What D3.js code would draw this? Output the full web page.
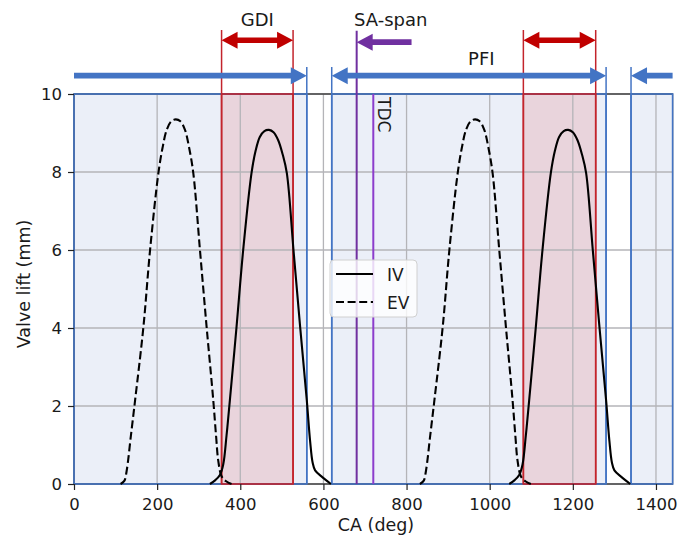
<!DOCTYPE html>
<html>
<head>
<meta charset="utf-8">
<script src="https://cdn.jsdelivr.net/npm/d3@7"></script>
<style>
  body { margin: 0; background: #fff; }
  text { font-family: "DejaVu Sans", sans-serif; fill: #1a1a1a; }
</style>
</head>
<body>
<svg id="canvas"></svg>
<script>
var width = 678,
  height = 539;

// valve lift curves, [crank angle (deg), lift (mm)]
var ivPoints = [
  [327, 0], [340, 0.1], [351, 0.23], [359, 0.5], [367, 1.25], [375, 2.15], [391, 4.03],
  [407, 6.0], [427, 7.97], [437, 8.55], [447, 8.9], [458, 9.05], [469, 9.08], [480, 9.02],
  [491, 8.82], [502, 8.45], [512, 7.97], [528, 6.0], [544, 4.03], [560, 2.15], [568, 1.1],
  [574, 0.55], [580, 0.35], [598, 0.17], [618, 0],
  [1047, 0], [1060, 0.1], [1071, 0.23], [1079, 0.5], [1087, 1.25], [1095, 2.15], [1111, 4.03],
  [1127, 6.0], [1147, 7.97], [1157, 8.55], [1167, 8.9], [1178, 9.05], [1189, 9.08], [1200, 9.02],
  [1211, 8.82], [1222, 8.45], [1232, 7.97], [1248, 6.0], [1264, 4.03], [1280, 2.15], [1288, 1.1],
  [1294, 0.55], [1300, 0.35], [1318, 0.17], [1338, 0]
];
var evPoints = [
  [112, 0], [121, 0.08], [127, 0.36], [137, 1.25], [147, 2.15], [167, 4.03], [183, 6.0],
  [203, 7.97], [213, 8.62], [223, 9.08], [234, 9.3], [245, 9.35], [256, 9.3], [267, 9.08],
  [277, 8.62], [287, 7.97], [303, 6.0], [319, 4.03], [335, 2.15], [342, 1.2], [347, 0.6],
  [355, 0.2], [366, 0.07], [379, 0],
  [832, 0], [841, 0.08], [847, 0.36], [857, 1.25], [867, 2.15], [887, 4.03], [903, 6.0],
  [923, 7.97], [933, 8.62], [943, 9.08], [954, 9.3], [965, 9.35], [976, 9.3], [987, 9.08],
  [997, 8.62], [1007, 7.97], [1023, 6.0], [1039, 4.03], [1055, 2.15], [1062, 1.2], [1067, 0.6],
  [1075, 0.2], [1086, 0.07], [1099, 0]
];

// injection windows (deg)
var pfiSpans = [[0, 560], [620, 1280], [1340, 1440]];
var gdiSpans = [[355, 527], [1081, 1255]];
var saSpan = [680, 812];
var tdcAngle = 720;

var xTicks = [0, 200, 400, 600, 800, 1000, 1200, 1400];
var yTicks = [0, 2, 4, 6, 8, 10];

var blue = '#4374c4',
    red = '#c00000',
    purple = '#7030a0',
    violet = '#8c3ccc';

function draw() {
  var canvas, x, y, g, line;

  canvas = d3.select('#canvas')
    .attr('width', width)
    .attr('height', height);

  x = d3.scaleLinear().domain([0, 1440]).range([74, 672.6]);
  y = d3.scaleLinear().domain([0, 10]).range([484, 94]);

  g = canvas.append('g');

  // FILLS
  g.selectAll('rect.pfi')
    .data(pfiSpans)
    .enter()
    .append('rect')
    .attr('class', 'pfi')
    .attr('x', function(d) { return x(d[0]); })
    .attr('width', function(d) { return x(d[1]) - x(d[0]); })
    .attr('y', y(10))
    .attr('height', y(0) - y(10))
    .style('fill', '#ebeff8');

  g.selectAll('rect.gdi')
    .data(gdiSpans)
    .enter()
    .append('rect')
    .attr('class', 'gdi')
    .attr('x', function(d) { return x(d[0]); })
    .attr('width', function(d) { return x(d[1]) - x(d[0]); })
    .attr('y', y(10))
    .attr('height', y(0) - y(10))
    .style('fill', '#e9d4dc');

  // GRID
  g.selectAll('line.vgrid')
    .data(xTicks)
    .enter()
    .append('line')
    .attr('x1', x).attr('x2', x)
    .attr('y1', y(0)).attr('y2', y(10))
    .style('stroke', '#b4b4b8')
    .style('stroke-width', 1.3);

  g.selectAll('line.hgrid')
    .data(yTicks)
    .enter()
    .append('line')
    .attr('y1', y).attr('y2', y)
    .attr('x1', x(0)).attr('x2', x(1440))
    .style('stroke', '#b4b4b8')
    .style('stroke-width', 1.3);

  // SPINES
  g.append('rect')
    .attr('x', x(0)).attr('y', y(10))
    .attr('width', x(1440) - x(0))
    .attr('height', y(0) - y(10))
    .style('fill', 'none')
    .style('stroke', '#222')
    .style('stroke-width', 1.2);

  // REGION EDGES
  g.selectAll('rect.pfi-edge')
    .data(pfiSpans)
    .enter()
    .append('rect')
    .attr('x', function(d) { return x(d[0]); })
    .attr('width', function(d) { return x(d[1]) - x(d[0]); })
    .attr('y', y(10))
    .attr('height', y(0) - y(10))
    .style('fill', 'none')
    .style('stroke', blue)
    .style('stroke-width', 1.6);

  g.selectAll('rect.gdi-edge')
    .data(gdiSpans)
    .enter()
    .append('rect')
    .attr('x', function(d) { return x(d[0]); })
    .attr('width', function(d) { return x(d[1]) - x(d[0]); })
    .attr('y', y(10))
    .attr('height', y(0) - y(10))
    .style('fill', 'none')
    .style('stroke', '#c3242c')
    .style('stroke-width', 1.6);

  // extended marker lines above the axes
  var pfiEnds = [pfiSpans[0][1], pfiSpans[1][0], pfiSpans[1][1], pfiSpans[2][0]];
  g.selectAll('line.pfi-mark')
    .data(pfiEnds)
    .enter()
    .append('line')
    .attr('x1', x).attr('x2', x)
    .attr('y1', y(0)).attr('y2', y(10.69))
    .style('stroke', blue)
    .style('stroke-width', 1.5);

  g.selectAll('line.gdi-mark')
    .data(d3.merge(gdiSpans))
    .enter()
    .append('line')
    .attr('x1', x).attr('x2', x)
    .attr('y1', y(0)).attr('y2', y(11.64))
    .style('stroke', '#c3242c')
    .style('stroke-width', 1.5);

  g.append('line')
    .attr('x1', x(saSpan[0])).attr('x2', x(saSpan[0]))
    .attr('y1', y(0)).attr('y2', y(11.62))
    .style('stroke', purple)
    .style('stroke-width', 2);

  g.append('line')
    .attr('x1', x(tdcAngle)).attr('x2', x(tdcAngle))
    .attr('y1', y(0)).attr('y2', y(10))
    .style('stroke', violet)
    .style('stroke-width', 2);

  // CURVES
  line = d3.line()
    .x(function(d) { return x(d[0]); })
    .y(function(d) { return y(d[1]); })
    .curve(d3.curveCatmullRom.alpha(0.5));

  var humps = function(points) {
    // split into separate lobes where the lift returns to zero
    var out = [], cur = [];
    points.forEach(function(p) {
      cur.push(p);
      if (p[1] === 0 && cur.length > 1) { out.push(cur); cur = []; }
    });
    return out;
  };

  g.selectAll('path.iv')
    .data(humps(ivPoints))
    .enter()
    .append('path')
    .attr('d', line)
    .style('fill', 'none')
    .style('stroke', '#000')
    .style('stroke-width', 2.1)
    .style('stroke-linejoin', 'round');

  g.selectAll('path.ev')
    .data(humps(evPoints))
    .enter()
    .append('path')
    .attr('d', line)
    .style('fill', 'none')
    .style('stroke', '#000')
    .style('stroke-width', 2.1)
    .style('stroke-dasharray', '8,3.6');

  // ARROWS
  function arrow(x0, x1, yy, color, headLeft, headRight) {
    var sw = 2.8, hw = 8.5, hl = 16, pts = [];
    if (headLeft) pts.push([x0, yy], [x0 + hl, yy - hw], [x0 + hl, yy - sw]);
    else pts.push([x0, yy - sw]);
    if (headRight) pts.push([x1 - hl, yy - sw], [x1 - hl, yy - hw], [x1, yy], [x1 - hl, yy + hw], [x1 - hl, yy + sw]);
    else pts.push([x1, yy - sw], [x1, yy + sw]);
    if (headLeft) pts.push([x0 + hl, yy + sw], [x0 + hl, yy + hw]);
    else pts.push([x0, yy + sw]);
    g.append('path')
      .attr('d', 'M' + pts.join('L') + 'Z')
      .style('fill', color);
  }

  gdiSpans.forEach(function(d) {
    arrow(x(d[0]), x(d[1]), y(11.38), red, true, true);
  });
  arrow(x(saSpan[0]), x(saSpan[1]), y(11.33), purple, true, false);
  arrow(x(pfiSpans[0][0]), x(pfiSpans[0][1]), y(10.47), blue, false, true);
  arrow(x(pfiSpans[1][0]), x(pfiSpans[1][1]), y(10.47), blue, true, true);
  arrow(x(pfiSpans[2][0]), x(pfiSpans[2][1]), y(10.47), blue, true, false);

  // LABELS
  g.append('text')
    .attr('x', x((gdiSpans[0][0] + gdiSpans[0][1]) / 2))
    .attr('y', 26)
    .attr('text-anchor', 'middle')
    .style('font-size', '18px')
    .text('GDI');

  g.append('text')
    .attr('x', x(762))
    .attr('y', 26)
    .attr('text-anchor', 'middle')
    .style('font-size', '18px')
    .text('SA-span');

  g.append('text')
    .attr('x', x(980))
    .attr('y', 65)
    .attr('text-anchor', 'middle')
    .style('font-size', '18px')
    .text('PFI');

  g.append('text')
    .attr('transform', 'translate(' + (x(tdcAngle) + 5) + ',' + (y(10) + 3) + ') rotate(90)')
    .style('font-size', '17px')
    .text('TDC');

  // AXES
  var xAxis = g.append('g')
    .attr('transform', 'translate(0,' + y(0) + ')')
    .call(d3.axisBottom(x).tickValues(xTicks).tickFormat(d3.format('d'))
      .tickSize(6).tickPadding(8).tickSizeOuter(0));
  var yAxis = g.append('g')
    .attr('transform', 'translate(' + x(0) + ',0)')
    .call(d3.axisLeft(y).tickValues(yTicks).tickFormat(d3.format('d'))
      .tickSize(6).tickPadding(6).tickSizeOuter(0));

  [xAxis, yAxis].forEach(function(a) {
    a.select('.domain').remove();
    a.selectAll('.tick line').style('stroke', '#222').style('stroke-width', 1.2);
    a.selectAll('.tick text')
      .style('font-size', '16.5px')
      .style('font-family', '"DejaVu Sans", sans-serif')
      .style('fill', '#1a1a1a');
  });

  g.append('text')
    .attr('x', 376)
    .attr('y', 531)
    .attr('text-anchor', 'middle')
    .style('font-size', '17.5px')
    .text('CA (deg)');

  g.append('text')
    .attr('transform', 'translate(30,284) rotate(-90)')
    .attr('text-anchor', 'middle')
    .style('font-size', '17.5px')
    .text('Valve lift (mm)');

  // LEGEND
  var legend = g.append('g').attr('transform', 'translate(330,260)');
  legend.append('rect')
    .attr('width', 87).attr('height', 57).attr('rx', 4)
    .style('fill', '#fff').style('fill-opacity', 0.8)
    .style('stroke', '#d0d0d0').style('stroke-width', 1);

  var entries = [{name: 'IV', dash: null, y: 14}, {name: 'EV', dash: '8,3.6', y: 42}];
  entries.forEach(function(e) {
    legend.append('line')
      .attr('x1', 6).attr('x2', 43)
      .attr('y1', e.y).attr('y2', e.y)
      .style('stroke', '#000').style('stroke-width', 2.1)
      .style('stroke-dasharray', e.dash);
    legend.append('text')
      .attr('x', 57).attr('y', e.y + 6.5)
      .style('font-size', '17px')
      .text(e.name);
  });
}

window.onload = draw;
</script>
</body>
</html>
